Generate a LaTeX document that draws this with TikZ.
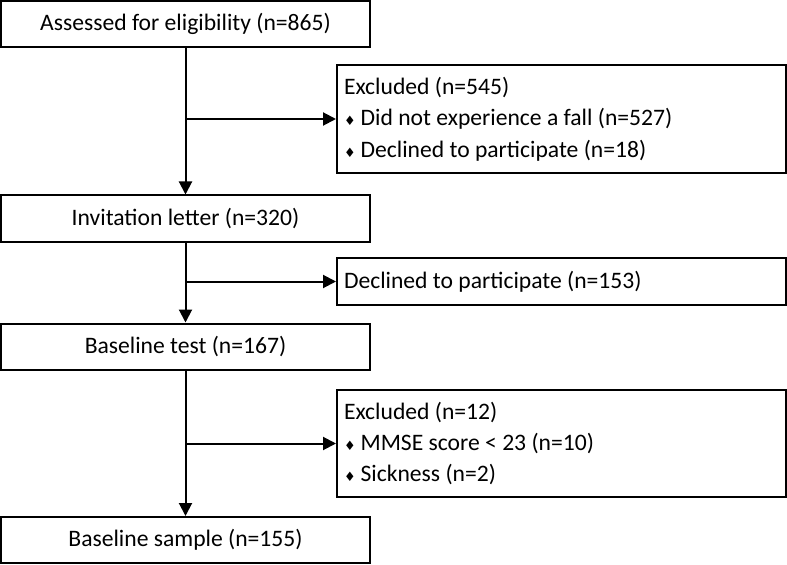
\documentclass[tikz,border=0pt]{standalone}
\usepackage{fontspec}
\setmainfont{Carlito}
\newfontfamily\bulletfont{DejaVu Sans}
\usetikzlibrary{arrows.meta,positioning}
\newcommand{\itembullet}{{\bulletfont\fontsize{13}{13}\selectfont ♦}\hspace{5bp}}

\begin{document}
\begin{tikzpicture}[x=1bp, y=-1bp, >={Triangle[length=13bp,width=13bp]}, line width=2bp,
		stagebox/.style={draw, minimum width=369bp, minimum height=46bp, inner sep=0pt, font=\fontsize{23.7}{28}\selectfont},
		exclbox/.style={draw, minimum width=449bp, text width=435bp, inner xsep=7bp, inner ysep=0pt, align=flush left, font=\fontsize{23.7}{31.5}\selectfont}]
		\useasboundingbox (0,0) rectangle (787,565);
		\node[stagebox] (assess) at (185.5,24) {Assessed for eligibility (n=865)};
		\node[exclbox, minimum height=108bp] (excl1) at (561.5,119) {Excluded (n=545)\\\itembullet Did not experience a fall (n=527)\\\itembullet Declined to participate (n=18)};
		\node[stagebox] (invite) at (185.5,218.5) {Invitation letter (n=320)};
		\node[exclbox, minimum height=47bp] (decl) at (561.5,281.5) {Declined to participate (n=153)};
		\node[stagebox] (base) at (185.5,346.5) {Baseline test (n=167)};
		\node[exclbox, minimum height=107bp] (excl2) at (561.5,443.5) {Excluded (n=12)\\\itembullet MMSE score < 23 (n=10)\\\itembullet Sickness (n=2)};
		\node[stagebox] (sample) at (185.5,540) {Baseline sample (n=155)};
		\draw[->] (assess) -- (invite);
		\draw[->] (assess.south |- excl1.west) -- (excl1.west);
		\draw[->] (invite) -- (base);
		\draw[->] (invite.south |- decl.west) -- (decl.west);
		\draw[->] (base) -- (sample);
		\draw[->] (base.south |- excl2.west) -- (excl2.west);
	\end{tikzpicture}
\end{document}
